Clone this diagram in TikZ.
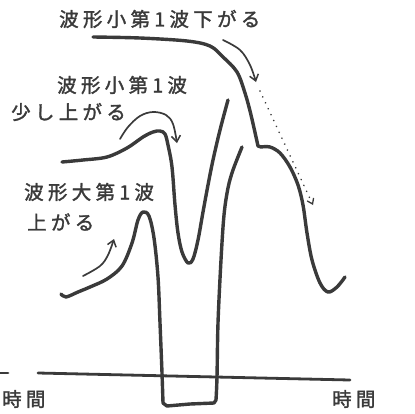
\documentclass[tikz,border=0pt]{standalone}
\usepackage{fontspec}
\newfontfamily\jp[LetterSpace=22,FakeBold=1.6]{Noto Sans CJK JP}
\usetikzlibrary{arrows.meta}
\definecolor{ink}{HTML}{3A3A3A}
\tikzset{
  wave/.style={draw=ink,line width=3.4pt,line cap=round,line join=round},
  hand/.style={draw=ink,line width=1.7pt,line cap=round,line join=round,-{Straight Barb[length=6pt,width=9pt,line width=1.5pt]}},
  dots/.style={draw=ink,line width=1.8pt,line cap=round,dash pattern=on 0.01pt off 6.5pt,-{Straight Barb[length=5pt,width=7pt,line width=1.3pt]}},
  lbl/.style={anchor=west,inner sep=0pt,text=ink,font=\jp\fontsize{19.5}{22}\selectfont},
  axis/.style={draw=ink,line width=2.8pt,line cap=round}
}
\begin{document}
\begin{tikzpicture}[x=1pt,y=-1pt]
\useasboundingbox (0,0) rectangle (415,413);
\fill[white] (0,0) rectangle (415,413);
% labels
\node[lbl] (t1) at (59,19) {波形小第1波下がる};
\node[lbl] (t2) at (57,85) {波形小第1波};
\node[lbl] (t3) at (11,112) {少し上がる};
\node[lbl] (t4) at (24,192) {波形大第1波};
\node[lbl] (t5) at (27,222) {上がる};
\node[lbl] (t6) at (2,399) {時間};
\node[lbl] (t7) at (332,399) {時間};
% axis
\coordinate (a0) at (0,373);
\coordinate (a1) at (8,373);
\coordinate (a2) at (38,373);
\coordinate (a3) at (350,380);
\draw[axis] (a0) -- (a1);
\draw[axis] (a2) -- (a3);
% curve 1 (small first wave falling)
\draw[wave] plot[smooth,tension=0.55] coordinates {(93,37) (140,38) (187,41) (210,46) (223,57) (237,72) (245,93) (251,115) (258,146)}
  -- plot[smooth,tension=0.55] coordinates {(261,147) (270,147) (280,153) (290,167) (298,185) (303,205) (307,233) (312,260) (320,283) (328,292) (337,287) (345,277)};
% curve 2 (small first wave rising a little)
\draw[wave] plot[smooth,tension=0.55] coordinates {(62,162) (83,160) (107,157) (127,148) (143,137) (153,132) (160,131) (165,134) (168,145) (172,167) (175,205) (178,233) (182,252) (188,263) (193,259) (198,240) (203,212) (208,185) (213,160) (220,130) (228,100)};
% curve 3 (large first wave rising)
\draw[wave] plot[smooth,tension=0.55] coordinates {(61,294) (66,297) (78,292) (90,287) (107,279) (122,266) (132,243) (138,220) (143,212) (149,216) (154,238) (158,277) (160,323) (162,373) (163,403)}
  -- (167,406) -- (190,404) -- (214,403)
  -- plot[smooth,tension=0.55] coordinates {(216,400) (217,377) (218,323) (221,260) (224,215) (228,188) (233,170) (242,147)};
% arrows
\draw[hand] plot[smooth,tension=0.6] coordinates {(223,40) (240,50) (250,65) (256,82)};
\draw[dots] (260,91) -- (313,205);
\draw[hand] plot[smooth,tension=0.6] coordinates {(120,139) (128,127) (140,116) (153,112) (166,115) (173,124) (177,143)};
\draw[hand] plot[smooth,tension=0.6] coordinates {(83,276) (100,266) (108,255) (114,239)};
\end{tikzpicture}
\end{document}
